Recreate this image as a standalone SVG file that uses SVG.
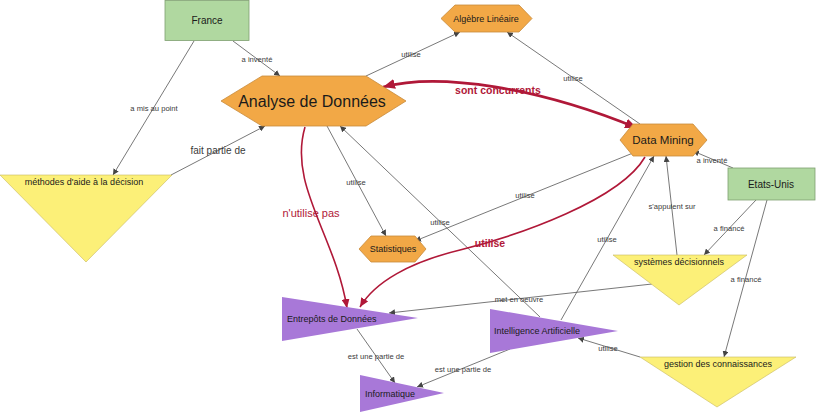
<svg xmlns="http://www.w3.org/2000/svg" width="816" height="413" viewBox="0 0 816 413">
<style>
.bg{fill:#ffffff}
.hex{fill:#F2A846;stroke:#C88A3A;stroke-width:0.8}
.rect{fill:#B0D8A0;stroke:#7FA070;stroke-width:0.8}
.yel{fill:#FCF078;stroke:#C8B860;stroke-width:0.6}
.pur{fill:#A878D8;stroke:none}
.nt{font-family:"Liberation Sans",Arial,sans-serif;fill:#1a1a1a}
.c{text-anchor:middle}
.e{fill:none;stroke:#555555;stroke-width:0.8}
.r{fill:none;stroke:#B01838;stroke-width:1.6}
.rb{fill:none;stroke:#B01838;stroke-width:2.6}
.el{font-family:"Liberation Sans",Arial,sans-serif;font-size:7.6px;fill:#3a3a3a;text-anchor:middle}
.rl{font-family:"Liberation Sans",Arial,sans-serif;fill:#B01838;text-anchor:middle}
</style>
<defs>
<marker id="ag" markerUnits="userSpaceOnUse" markerWidth="7" markerHeight="6" refX="6" refY="3" orient="auto"><path d="M0,0 L6,3 L0,6 z" fill="#444"/></marker>
<marker id="ar" markerUnits="userSpaceOnUse" markerWidth="10" markerHeight="8" refX="9" refY="4" orient="auto-start-reverse"><path d="M0,0 L9,4 L0,8 z" fill="#B01838"/></marker>
<marker id="arb" markerUnits="userSpaceOnUse" markerWidth="13" markerHeight="10" refX="12" refY="5" orient="auto-start-reverse"><path d="M0,0 L12,5 L0,10 z" fill="#B01838"/></marker>
</defs>
<rect class="bg" x="0" y="0" width="816" height="413"/>

<g id="connectors">
<line class="e" x1="233" y1="41" x2="280" y2="76" marker-end="url(#ag)"/>
<line class="e" x1="194" y1="41" x2="113" y2="175" marker-end="url(#ag)"/>
<line class="e" x1="171" y1="175" x2="265" y2="126" marker-end="url(#ag)"/>
<line class="e" x1="366" y1="76" x2="460" y2="32" marker-end="url(#ag)"/>
<line class="e" x1="640" y1="124" x2="507" y2="32" marker-end="url(#ag)"/>
<line class="e" x1="633" y1="153" x2="415" y2="241" marker-end="url(#ag)"/>
<line class="e" x1="327" y1="126" x2="386" y2="236" marker-end="url(#ag)"/>
<line class="e" x1="540" y1="317" x2="340" y2="126" marker-end="url(#ag)"/>
<line class="e" x1="561" y1="320" x2="654" y2="156" marker-end="url(#ag)"/>
<line class="e" x1="677" y1="255" x2="666" y2="156" marker-end="url(#ag)"/>
<line class="e" x1="733" y1="168" x2="693" y2="151" marker-end="url(#ag)"/>
<line class="e" x1="756" y1="200" x2="704" y2="255" marker-end="url(#ag)"/>
<line class="e" x1="767" y1="200" x2="724" y2="357" marker-end="url(#ag)"/>
<line class="e" x1="652" y1="284" x2="389" y2="313" marker-end="url(#ag)"/>
<line class="e" x1="640" y1="357" x2="578" y2="338" marker-end="url(#ag)"/>
<line class="e" x1="357" y1="329" x2="395" y2="383" marker-end="url(#ag)"/>
<line class="e" x1="510" y1="349" x2="417" y2="387" marker-end="url(#ag)"/>
<path class="rb" d="M383,87 C440,72 540,88 637,128" marker-start="url(#arb)" marker-end="url(#arb)"/>
<path class="r" d="M305,127 C288,185 335,235 347,308" marker-end="url(#ar)"/>
<path class="r" d="M645,157 C620,200 520,235 460,250 C410,262 375,282 360,307" marker-end="url(#ar)"/>

<text class="el" x="257" y="62">a inventé</text>
<text class="el" x="154" y="111">a mis au point</text>
<text class="el" x="218" y="154" style="font-size:10px">fait partie de</text>
<text class="el" x="411" y="57">utilise</text>
<text class="el" x="573" y="81">utilise</text>
<text class="el" x="525" y="198">utilise</text>
<text class="el" x="356" y="185">utilise</text>
<text class="el" x="440" y="225">utilise</text>
<text class="el" x="607" y="242">utilise</text>
<text class="el" x="672" y="209">s'appuient sur</text>
<text class="el" x="712" y="163">a inventé</text>
<text class="el" x="729" y="231">a financé</text>
<text class="el" x="746" y="282">a financé</text>
<text class="el" x="519" y="302">met en oeuvre</text>
<text class="el" x="608" y="351">utilise</text>
<text class="el" x="376" y="359">est une partie de</text>
<text class="el" x="463" y="372">est une partie de</text>
<text class="rl" x="498" y="94" style="font-size:10.5px;font-weight:bold">sont concurrents</text>
<text class="rl" x="311" y="217" style="font-size:11px">n'utilise pas</text>
<text class="rl" x="490" y="247" style="font-size:10.5px;font-weight:bold">utilise</text>
</g>

<g id="france"><rect class="rect" x="165" y="0.5" width="84" height="40"/><text class="nt c" x="207" y="24" font-size="10">France</text></g>
<g id="analyse"><polygon class="hex" points="221,101 262,76 366,76 406,101 366,126 262,126"/><text class="nt c" x="312" y="107" font-size="16">Analyse de Données</text></g>
<g id="algebre"><polygon class="hex" points="441,18.5 455,5 519,5 532,18.5 519,32 455,32"/><text class="nt c" x="486" y="22" font-size="9">Algèbre Linéaire</text></g>
<g id="datamining"><polygon class="hex" points="620,140 633,124 693,124 707,140 693,156 633,156"/><text class="nt c" x="663" y="144" font-size="11.5">Data Mining</text></g>
<g id="etatsunis"><rect class="rect" x="728" y="168" width="87" height="32"/><text class="nt c" x="771" y="188" font-size="10">Etats-Unis</text></g>
<g id="methodes"><polygon class="yel" points="0,175 172,175 86,262"/><text class="nt c" x="84" y="185" font-size="9">méthodes d'aide à la décision</text></g>
<g id="statistiques"><polygon class="hex" points="359,249 371,236 415,236 426,249 415,262 371,262"/><text class="nt c" x="393" y="252" font-size="9">Statistiques</text></g>
<g id="entrepots"><polygon class="pur" points="282,297 418,318 282,341"/><text class="nt" x="287" y="322" font-size="9">Entrepôts de Données</text></g>
<g id="informatique"><polygon class="pur" points="360,375 444,393 360,412"/><text class="nt" x="365" y="397" font-size="9">Informatique</text></g>
<g id="ia"><polygon class="pur" points="490,309 618,331 490,353"/><text class="nt" x="494" y="334" font-size="9">Intelligence Artificielle</text></g>
<g id="systemes"><polygon class="yel" points="613,255 747,255 679,305"/><text class="nt c" x="679" y="265" font-size="9">systèmes décisionnels</text></g>
<g id="gestion"><polygon class="yel" points="640,357 796,357 717,407"/><text class="nt c" x="718" y="367" font-size="9">gestion des connaissances</text></g>
</svg>
